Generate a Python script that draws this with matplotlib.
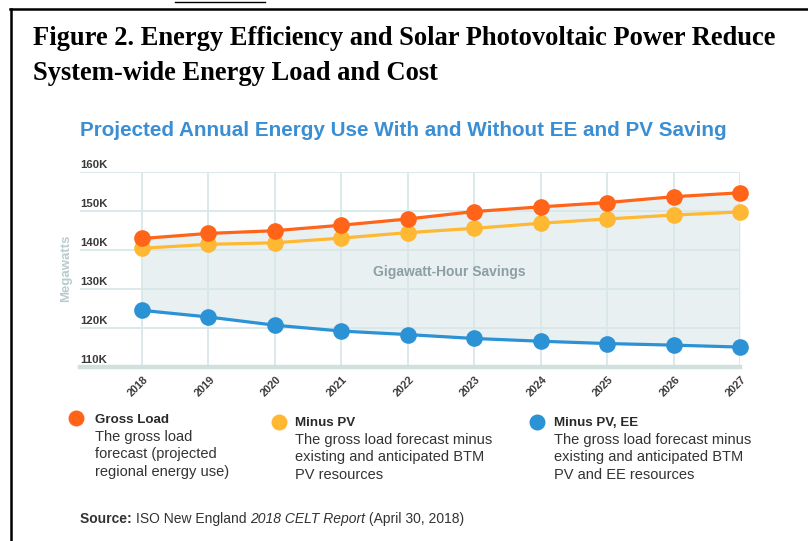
import matplotlib
matplotlib.use('Agg')
import matplotlib.pyplot as plt
import matplotlib.transforms as mtransforms
from matplotlib.lines import Line2D
import numpy as np

# ---------------- data ----------------
years = ['2018', '2019', '2020', '2021', '2022', '2023', '2024', '2025', '2026', '2027']
gross_load = [142900, 144200, 144900, 146300, 147900, 149800, 151000, 152100, 153600, 154600]
minus_pv = [140400, 141400, 141800, 143000, 144400, 145500, 146800, 147900, 148900, 149700]
minus_pv_ee = [124500, 122800, 120700, 119200, 118300, 117300, 116600, 116000, 115600, 115100]
y_ticks = [110000, 120000, 130000, 140000, 150000, 160000]
y_tick_labels = ['110K', '120K', '130K', '140K', '150K', '160K']
series_names = ['Gross Load', 'Minus PV', 'Minus PV, EE']
series_desc = [
    ['The gross load', 'forecast (projected', 'regional energy use)'],
    ['The gross load forecast minus', 'existing and anticipated BTM', 'PV resources'],
    ['The gross load forecast minus', 'existing and anticipated BTM', 'PV and EE resources'],
]
series_colors = ['#ff6418', '#ffb833', '#2b93d5']

fig_title = ['Figure 2. Energy Efficiency and Solar Photovoltaic Power Reduce',
             'System-wide Energy Load and Cost']
chart_title = 'Projected Annual Energy Use With and Without EE and PV Saving'
area_label = 'Gigawatt-Hour Savings'
y_label = 'Megawatts'
source_parts = ['Source: ', 'ISO New England ', '2018 CELT Report', ' (April 30, 2018)']

# ---------------- layout helpers ----------------
W, H = 808, 541
fig = plt.figure(figsize=(W / 100, H / 100), dpi=100)
fig.patch.set_facecolor('white')

def fx(x):
    return x / W

def fy(y):
    return 1 - y / H

renderer = fig.canvas.get_renderer()

def width(t):
    return t.get_window_extent(renderer=renderer).width

def fit(t, target_w):
    t.set_fontsize(t.get_fontsize() * target_w / width(t))
    return t

SANS = ['Liberation Sans', 'DejaVu Sans']
SERIF = ['Liberation Serif', 'DejaVu Serif']

# page border (box around the figure)
fig.add_artist(Line2D([fx(10), 1.0], [fy(8.5), fy(8.5)], color='black', lw=1.8, transform=fig.transFigure))
fig.add_artist(Line2D([fx(11), fx(11)], [fy(8.5), 0.0], color='black', lw=1.8, transform=fig.transFigure))
# underline of the cut-off line of text above the box
fig.add_artist(Line2D([fx(175), fx(265)], [fy(2), fy(2)], color='black', lw=1.0, transform=fig.transFigure))

# figure caption
t1 = fig.text(fx(33), fy(45), fig_title[0], family=SERIF, weight='bold', fontsize=16,
              ha='left', va='baseline', color='black')
fit(t1, 747)
t2 = fig.text(fx(33), fy(80), fig_title[1], family=SERIF, weight='bold', fontsize=t1.get_fontsize(),
              ha='left', va='baseline', color='black')

# chart title
ct = fig.text(fx(80), fy(131), chart_title, family=SANS, weight='bold', fontsize=13,
              ha='left', va='center', color='#3a8fd4')
fit(ct, 645)

# ---------------- axes ----------------
left, right, top, bottom = 80, 740, 171.7, 367
ax = fig.add_axes([fx(left), fy(bottom), fx(right) - fx(left), fy(top) - fy(bottom)])
x = np.arange(len(years))
step = (right - 142) / (len(years) - 1)
ax.set_xlim(-(142 - left) / step, len(years) - 1)
ax.set_ylim(y_ticks[0], y_ticks[-1])
for s in ax.spines.values():
    s.set_visible(False)
ax.set_xticks([])
ax.set_yticks([])
ax.patch.set_alpha(0)

grid_c = '#d8e7e8'
ax.fill_between(x, minus_pv_ee, gross_load, color='#e8f0f2', zorder=1, lw=0)
for t in y_ticks[1:]:
    ax.axhline(t, color=grid_c, lw=1.3, zorder=2)
for i in x:
    ax.axvline(i, color=grid_c, lw=1.3, zorder=2)
ax.axhline(y_ticks[0], color='#cfe0df', lw=3.2, zorder=2, clip_on=False)

# draw order: blue, yellow, orange on top
for vals, col, z in [(minus_pv_ee, series_colors[2], 5), (minus_pv, series_colors[1], 6),
                     (gross_load, series_colors[0], 7)]:
    ax.plot(x, vals, color=col, lw=2.3, marker='o', markersize=12, markeredgewidth=0,
            zorder=z, clip_on=False, solid_capstyle='round')

# y tick labels (above gridlines)
ytrans = mtransforms.offset_copy(mtransforms.blended_transform_factory(ax.transAxes, ax.transData),
                                 fig=fig, x=0, y=4.0, units='dots')
for t, lab in zip(y_ticks, y_tick_labels):
    ax.text(0, t, lab, transform=ytrans, ha='left', va='baseline', fontsize=8.2,
            weight='bold', color='#3a3a3a', family=SANS)

# year labels
xtrans = mtransforms.offset_copy(ax.transData, fig=fig, x=1, y=-7, units='dots')
for i, yr in enumerate(years):
    ax.text(i, y_ticks[0], yr, transform=xtrans, rotation=45, ha='right', va='top',
            rotation_mode='anchor', fontsize=7.8, weight='bold', color='#3a3a3a', family=SANS,
            clip_on=False)

# y axis label
fig.text(fx(66), fy(268), y_label, rotation=90, ha='center', va='center', fontsize=9.5,
         weight='bold', color='#b8cbce', family=SANS)

# area label
al = fig.text(fx(449), fy(272), area_label, ha='center', va='center', fontsize=8.5,
              weight='bold', color='#8c9fa3', family=SANS)
fit(al, 152)

# ---------------- legend ----------------
leg_x = [76, 279, 537]
leg_circ_y = [418, 421.5, 421.5]
leg_text_x = [95, 295, 554]
leg_head_y = [423, 426, 426]
probe = fig.text(0, 0, series_desc[1][0], fontsize=10, family=SANS)
desc_size = 10 * 196 / width(probe)
probe.remove()
for k in range(3):
    fig.add_artist(Line2D([fx(leg_x[k])], [fy(leg_circ_y[k])], marker='o', markersize=11.5,
                          markeredgewidth=0, color=series_colors[k], transform=fig.transFigure))
    fig.text(fx(leg_text_x[k]), fy(leg_head_y[k]), series_names[k], ha='left', va='baseline',
             fontsize=9.6, weight='bold', color='#2a2a2a', family=SANS)
    for j, line in enumerate(series_desc[k]):
        fig.text(fx(leg_text_x[k]), fy(leg_head_y[k] + 17.7 * (j + 1)), line, ha='left',
                 va='baseline', fontsize=desc_size, color='#333333', family=SANS)

# ---------------- source ----------------
styles = [('bold', 'normal'), ('normal', 'normal'), ('normal', 'italic'), ('normal', 'normal')]
src_size = 9.0
tot = 0
for txt, (w, st) in zip(source_parts, styles):
    p = fig.text(0, 0, txt, fontsize=src_size, weight=w, style=st, family=SANS)
    tot += width(p)
    p.remove()
src_size *= 383 / tot
cur = 80
for txt, (w, st) in zip(source_parts, styles):
    tt = fig.text(fx(cur), fy(523), txt, ha='left', va='baseline', fontsize=src_size, weight=w,
                  style=st, color='#333333', family=SANS)
    cur += width(tt)

fig.savefig('out.png', dpi=100, facecolor='white')
